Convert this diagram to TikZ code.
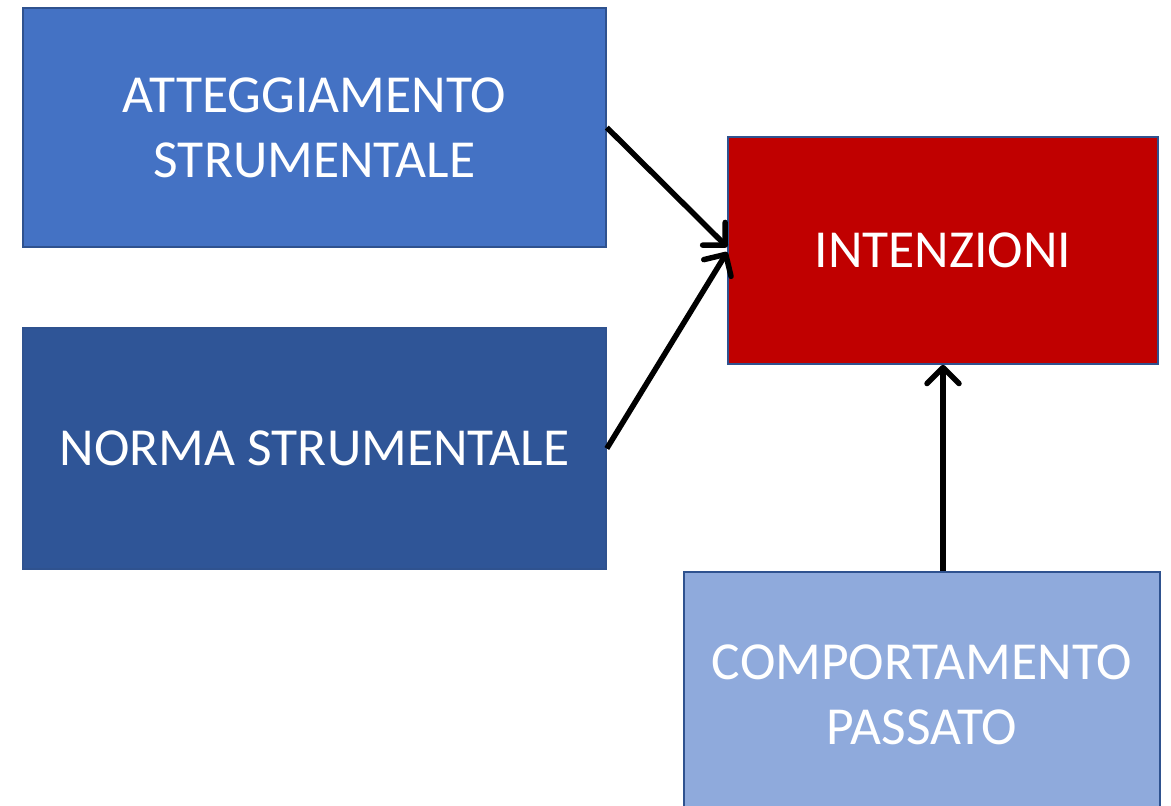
\documentclass[tikz,border=0pt]{standalone}
\usepackage{fontspec}
\setmainfont{Carlito}
\usetikzlibrary{arrows.meta}
\definecolor{boxA}{HTML}{4472C4}
\definecolor{boxB}{HTML}{2F5597}
\definecolor{boxC}{HTML}{C00000}
\definecolor{boxD}{HTML}{8FAADC}
\definecolor{edge}{HTML}{2F528F}
\tikzset{
  box/.style={rectangle, draw=edge, line width=1.6pt, inner sep=0pt, align=center,
    text=white, font=\fontsize{53.5}{65}\selectfont},
  conn/.style={line width=5.5pt, draw=black,
    -{Straight Barb[length=16pt, width=32pt, line width=5.5pt, round]}}
}
\begin{document}
\begin{tikzpicture}[x=1pt, y=-1pt]
\useasboundingbox (0,0) rectangle (1171,806);
\begin{scope}
\clip (0,0) rectangle (1171,806);
\node[box, fill=boxA, minimum width=583pt, minimum height=239pt] (A) at (314.5,127.5) {ATTEGGIAMENTO\\STRUMENTALE};
\node[box, fill=boxB, minimum width=583pt, minimum height=241pt] (B) at (314.5,448.5) {NORMA STRUMENTALE};
\node[box, fill=boxC, minimum width=430pt, minimum height=227pt] (C) at (943,250.5) {INTENZIONI};
\node[box, fill=boxD, minimum width=476pt, minimum height=246pt] (D) at (922,695) {COMPORTAMENTO\\PASSATO};
\coordinate (Cin1) at ([yshift=3.5pt]C.west);
\coordinate (Cin2) at ([yshift=-1.5pt]C.west);
\draw[conn] (A.east) -- (Cin1);
\draw[conn] (B.east) -- (Cin2);
\draw[conn] (C.south |- D.north) -- (C.south);
\end{scope}
\end{tikzpicture}
\end{document}
